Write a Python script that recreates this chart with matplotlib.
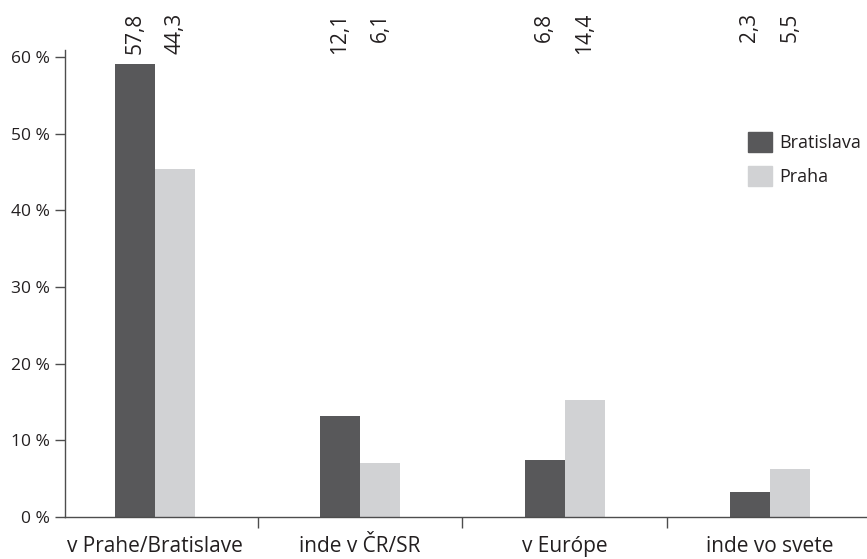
import matplotlib
matplotlib.use("Agg")
import matplotlib.pyplot as plt
import numpy as np
from matplotlib.patches import Patch
import matplotlib.transforms as mtransforms

plt.rcParams['font.family'] = ['Open Sans', 'DejaVu Sans']

categories = ["v Prahe/Bratislave", "inde v ČR/SR", "v Európe", "inde vo svete"]
series_names = ["Bratislava", "Praha"]
# bar heights as drawn in the picture
bratislava = [59.1, 13.2, 7.4, 3.3]
praha = [45.4, 7.0, 15.2, 6.3]
# printed value labels
bratislava_labels = ["57,8", "12,1", "6,8", "2,3"]
praha_labels = ["44,3", "6,1", "14,4", "5,5"]
yticks = [0, 10, 20, 30, 40, 50, 60]
ytick_labels = ["0 %", "10 %", "20 %", "30 %", "40 %", "50 %", "60 %"]

dark = "#58585a"
light = "#d1d2d4"
axc = "#4d4d4d"
txt = "#231f20"

fig = plt.figure(figsize=(8.67, 5.59), dpi=100)
ax = fig.add_axes([65/867, 1-517/559, 1-65/867, (517-50)/559])

x = np.arange(len(categories))
w = 0.195
ax.bar(x - w/2, bratislava, width=w, color=dark, label=series_names[0])
ax.bar(x + w/2, praha, width=w, color=light, label=series_names[1])

ax.set_xlim(-0.44, 3.475)
ax.set_ylim(0, 60.9)

for s in ["top", "right"]:
    ax.spines[s].set_visible(False)
for s in ["left", "bottom"]:
    ax.spines[s].set_color(axc)
    ax.spines[s].set_linewidth(1.0)

ax.set_yticks(yticks)
ax.set_yticklabels(ytick_labels, fontsize=12.5, color=txt)
ax.tick_params(axis="y", length=7, width=1, color=axc, pad=4)

# category separators as ticks
ax.set_xticks([0.5, 1.5, 2.5], minor=False)
ax.set_xticklabels([])
ax.tick_params(axis="x", which="major", length=8, width=1, color=axc, direction="out")
ax.set_xticks(x, minor=True)
ax.set_xticklabels(categories, minor=True, fontsize=15, color=txt)
ax.tick_params(axis="x", which="minor", length=0, pad=14)

trans = mtransforms.blended_transform_factory(ax.transData, fig.transFigure)
for i in range(len(categories)):
    ax.text(x[i] - w/2, 1 - 13/559, bratislava_labels[i], rotation=90, ha="center", va="top",
            fontsize=15, color=txt, transform=trans)
    ax.text(x[i] + w/2, 1 - 13/559, praha_labels[i], rotation=90, ha="center", va="top",
            fontsize=15, color=txt, transform=trans)

handles = [Patch(color=dark), Patch(color=light)]
leg = fig.legend(handles, series_names, loc="upper left", bbox_to_anchor=(732/867, 1-116/559),
                 frameon=False, fontsize=13, handlelength=1.3, handleheight=1.3,
                 handletextpad=0.4, labelspacing=0.78, borderpad=0.4)
for t in leg.get_texts():
    t.set_color(txt)

fig.savefig("out.png", dpi=100)
